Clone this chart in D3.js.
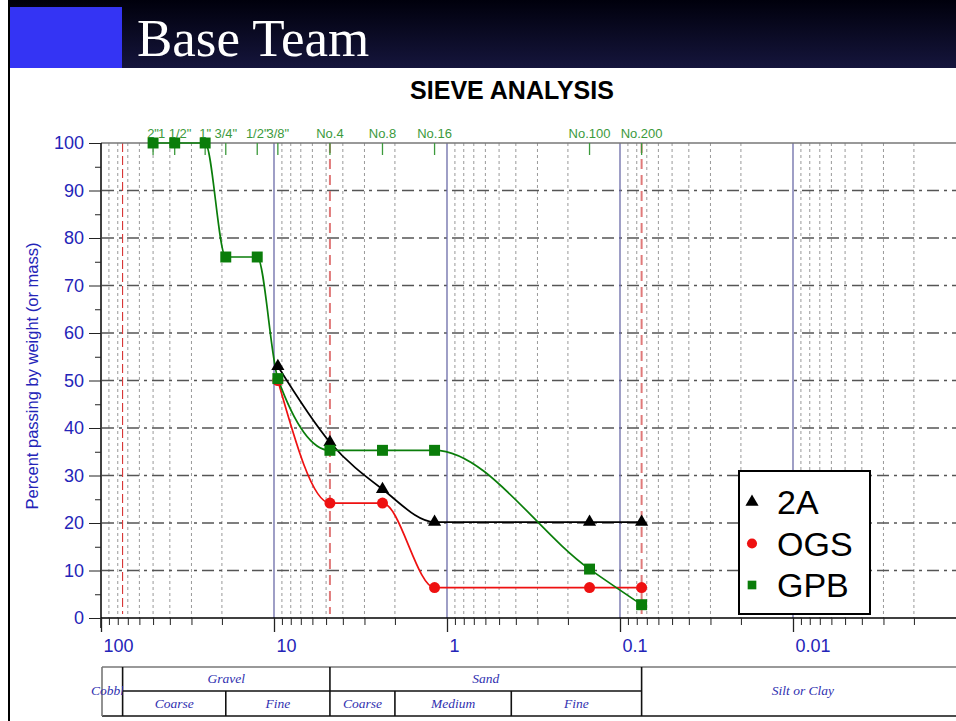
<!DOCTYPE html>
<html>
<head>
<meta charset="utf-8">
<script src="https://cdn.jsdelivr.net/npm/d3@7"></script>
<style>
  body { margin: 0; background: #fff; }
  svg { display: block; }
</style>
</head>
<body>
<svg id="canvas" width="956" height="721"></svg>
<script>
(function () {
    // sieve openings (mm) and their names
    var sieveSizes = [50, 37.5, 25, 19, 12.5, 9.5, 4.75, 2.36, 1.18, 0.15, 0.075];
    var sieveNames = ['2"', '1 1/2"', '1"', '3/4"', '1/2"', '3/8"', 'No.4', 'No.8', 'No.16', 'No.100', 'No.200'];

    // percent passing for each mix
    var sizes2A = [9.5, 4.75, 2.36, 1.18, 0.15, 0.075];
    var pass2A = [53, 37, 27.1, 20.2, 20.2, 20.2];
    var sizesOGS = [9.5, 4.75, 2.36, 1.18, 0.15, 0.075];
    var passOGS = [50, 24.2, 24.2, 6.4, 6.4, 6.4];
    var sizesGPB = [50, 37.5, 25, 19, 12.5, 9.5, 4.75, 2.36, 1.18, 0.15, 0.075];
    var passGPB = [100, 100, 100, 76, 76, 50.4, 35.3, 35.3, 35.3, 10.3, 2.8];

    var xMajor = [100, 10, 1, 0.1, 0.01];
    var xMajorLabels = ["100", "10", "1", "0.1", "0.01"];
    var yTicks = [0, 10, 20, 30, 40, 50, 60, 70, 80, 90, 100];

    // soil class boundaries (mm)
    var boundaries = [75, 4.75, 0.075];
    var classTop = [["Gravel", 75, 4.75], ["Sand", 4.75, 0.075]];
    var classBottom = [["Coarse", 75, 19], ["Fine", 19, 4.75], ["Coarse", 4.75, 2], ["Medium", 2, 0.425], ["Fine", 0.425, 0.075]];

    var blue = "#2424b8";
    var svg = d3.select("#canvas");

    // ---- slide banner ----
    var defs = svg.append("defs");
    var grad = defs.append("linearGradient").attr("id", "band")
        .attr("x1", 0).attr("y1", 0).attr("x2", 0).attr("y2", 1);
    grad.append("stop").attr("offset", "0%").attr("stop-color", "#00000c");
    grad.append("stop").attr("offset", "100%").attr("stop-color", "#15153c");
    defs.append("clipPath").attr("id", "cobClip")
        .append("rect").attr("x", 60).attr("y", 660).attr("width", 63).attr("height", 60);

    svg.append("rect").attr("x", 8).attr("y", 0).attr("width", 948).attr("height", 68).attr("fill", "url(#band)");
    svg.append("rect").attr("x", 10).attr("y", 7).attr("width", 112).attr("height", 61).attr("fill", "#3434f4");
    svg.append("line").attr("x1", 9).attr("x2", 9).attr("y1", 0).attr("y2", 721)
        .attr("stroke", "#000").attr("stroke-width", 2);
    svg.append("text").attr("x", 137).attr("y", 56)
        .attr("font-family", "'Liberation Serif', 'Times New Roman', serif")
        .attr("font-size", 53).attr("fill", "#fff").text("Base Team");

    svg.append("text").attr("x", 512).attr("y", 99).attr("text-anchor", "middle")
        .attr("font-family", "'Liberation Sans', Arial, sans-serif").attr("font-weight", "bold")
        .attr("font-size", 25).attr("fill", "#000").text("SIEVE ANALYSIS");

    // ---- scales ----
    var x = d3.scaleLog().domain([100, 0.001]).range([101, 966]);
    var y = d3.scaleLinear().domain([0, 100]).range([618, 143]);

    var minor = [];
    [10, 1, 0.1, 0.01, 0.001].forEach(function (d) {
        for (var k = 2; k <= 9; k++) minor.push(+(k * d).toPrecision(3));
    });

    var chart = svg.append("g");

    // dotted minor grid
    chart.append("g").selectAll("line").data(minor).join("line")
        .attr("x1", function (d) { return x(d); }).attr("x2", function (d) { return x(d); })
        .attr("y1", y(100)).attr("y2", y(0))
        .attr("stroke", "#999").attr("stroke-width", 1).attr("stroke-dasharray", "3,3");

    // horizontal dash-dot grid
    chart.append("g").selectAll("line").data(yTicks.slice(1, 10)).join("line")
        .attr("x1", 102).attr("x2", 956)
        .attr("y1", function (d) { return y(d); }).attr("y2", function (d) { return y(d); })
        .attr("stroke", "#555").attr("stroke-width", 1.3).attr("stroke-dasharray", "12,5,3,5");

    // blue decade lines
    chart.append("g").selectAll("line").data(xMajor.slice(1)).join("line")
        .attr("x1", function (d) { return x(d); }).attr("x2", function (d) { return x(d); })
        .attr("y1", y(100)).attr("y2", y(0))
        .attr("stroke", "#6b6ba8").attr("stroke-width", 1.3);

    // red class boundaries
    chart.append("g").selectAll("line").data(boundaries).join("line")
        .attr("x1", function (d) { return x(d); }).attr("x2", function (d) { return x(d); })
        .attr("y1", y(100)).attr("y2", y(0) - 4)
        .attr("stroke", function (d, i) { return i === 0 ? "#d42020" : "#e07a7a"; })
        .attr("stroke-width", function (d, i) { return i === 0 ? 1 : 2; })
        .attr("stroke-dasharray", function (d, i) { return i === 0 ? "9,4" : "10,6"; });

    // top frame + sieve ticks
    chart.append("line").attr("x1", 101).attr("x2", 956).attr("y1", y(100)).attr("y2", y(100))
        .attr("stroke", "#777").attr("stroke-width", 1.5);
    chart.append("g").selectAll("line").data(sieveSizes).join("line")
        .attr("x1", function (d) { return x(d); }).attr("x2", function (d) { return x(d); })
        .attr("y1", y(100)).attr("y2", y(100) + 12)
        .attr("stroke", "#3c9a3c").attr("stroke-width", 1.3);
    chart.append("g").selectAll("text").data(sieveSizes).join("text")
        .attr("x", function (d) { return x(d); }).attr("y", y(100) - 5)
        .attr("text-anchor", "middle")
        .attr("font-family", "'Liberation Sans', Arial, sans-serif").attr("font-size", 13)
        .attr("fill", "#3c9a3c")
        .text(function (d, i) { return sieveNames[i]; });

    // axes
    chart.append("g").attr("transform", "translate(101,0)")
        .call(d3.axisLeft(y).tickValues(yTicks).tickSize(12).tickSizeOuter(0).tickPadding(5))
        .call(function (g) { g.select(".domain").attr("stroke-width", 1.5).attr("d", "M0,143V628"); })
        .call(function (g) {
            g.selectAll("line").attr("stroke", "#222");
            g.selectAll("text").attr("fill", blue).attr("font-size", 18)
                .attr("font-family", "'Liberation Sans', Arial, sans-serif");
        });
    chart.append("g").attr("transform", "translate(101,0)")
        .call(d3.axisLeft(y).tickValues(d3.range(5, 100, 10)).tickSize(6).tickFormat(""))
        .call(function (g) { g.select(".domain").remove(); g.selectAll("line").attr("stroke", "#222"); });

    chart.append("g").attr("transform", "translate(0," + y(0) + ")")
        .call(d3.axisBottom(x).tickValues(xMajor).tickSize(14).tickSizeOuter(0)
            .tickFormat(function (d, i) { return xMajorLabels[i]; }))
        .call(function (g) {
            g.select(".domain").attr("d", "M101,0H956").attr("stroke-width", 1.5);
            g.selectAll("line").attr("stroke", "#222").attr("stroke-width", 1.3);
            g.selectAll("text").attr("fill", blue).attr("font-size", 18)
                .attr("font-family", "'Liberation Sans', Arial, sans-serif")
                .attr("text-anchor", "start").attr("x", 2).attr("y", 21);
        });
    chart.append("g").attr("transform", "translate(0," + y(0) + ")")
        .call(d3.axisBottom(x).tickValues(minor).tickSize(7).tickFormat(""))
        .call(function (g) { g.select(".domain").remove(); g.selectAll("line").attr("stroke", "#222"); });

    svg.append("text")
        .attr("transform", "translate(38,376) rotate(-90)")
        .attr("text-anchor", "middle")
        .attr("font-family", "'Liberation Sans', Arial, sans-serif").attr("font-size", 16.5)
        .attr("fill", blue).text("Percent passing by weight (or mass)");

    // ---- series ----
    var line = d3.line()
        .x(function (d) { return x(d[0]); })
        .y(function (d) { return y(d[1]); })
        .curve(d3.curveMonotoneX);

    function zip(a, b) { return a.map(function (d, i) { return [d, b[i]]; }); }

    var series = [
        { name: "OGS", pts: zip(sizesOGS, passOGS), color: "#ee1111", sym: d3.symbolCircle, size: 95 },
        { name: "2A", pts: zip(sizes2A, pass2A), color: "#000", sym: d3.symbolTriangle, size: 75 },
        { name: "GPB", pts: zip(sizesGPB, passGPB), color: "#0a7d0a", sym: d3.symbolSquare, size: 120 }
    ];

    series.forEach(function (s) {
        chart.append("path").datum(s.pts).attr("d", line)
            .attr("fill", "none").attr("stroke", s.color).attr("stroke-width", 1.7);
    });
    series.forEach(function (s) {
        chart.append("g").selectAll("path").data(s.pts).join("path")
            .attr("transform", function (d) { return "translate(" + x(d[0]) + "," + y(d[1]) + ")"; })
            .attr("d", d3.symbol().type(s.sym).size(s.size))
            .attr("fill", s.color);
    });

    // ---- legend ----
    var legend = svg.append("g");
    legend.append("rect").attr("x", 739).attr("y", 471).attr("width", 131).attr("height", 143)
        .attr("fill", "#fff").attr("stroke", "#000").attr("stroke-width", 2);
    var legendOrder = [series[1], series[0], series[2]];
    legendOrder.forEach(function (s, i) {
        var cy = 502 + i * 41.5;
        legend.append("path").attr("transform", "translate(752," + cy + ")")
            .attr("d", d3.symbol().type(s.sym).size(s.sym === d3.symbolCircle ? 80 : 75))
            .attr("fill", s.color);
        legend.append("text").attr("x", 777).attr("y", cy + 12)
            .attr("font-family", "'Liberation Sans', Arial, sans-serif").attr("font-size", 34)
            .attr("fill", "#000").text(s.name);
    });

    // ---- soil classification table ----
    var table = svg.append("g");
    var tTop = 667, tMid = 691, tBot = 716;
    var lineAttrs = function (sel) { return sel.attr("stroke", "#111").attr("stroke-width", 1.6); };
    lineAttrs(table.append("line").attr("x1", 102).attr("x2", 956).attr("y1", tTop).attr("y2", tTop)).attr("stroke", "#777");
    lineAttrs(table.append("line").attr("x1", 102).attr("x2", 956).attr("y1", tBot).attr("y2", tBot));
    lineAttrs(table.append("line").attr("x1", x(75)).attr("x2", x(0.075)).attr("y1", tMid).attr("y2", tMid));
    lineAttrs(table.append("line").attr("x1", 102).attr("x2", 102).attr("y1", tTop).attr("y2", tBot)).attr("stroke", "#777");
    table.append("g").selectAll("line").data(boundaries).join("line")
        .attr("x1", function (d) { return x(d); }).attr("x2", function (d) { return x(d); })
        .attr("y1", tTop).attr("y2", tBot).attr("stroke", "#111").attr("stroke-width", 1.6);
    table.append("g").selectAll("line").data([19, 2, 0.425]).join("line")
        .attr("x1", function (d) { return x(d); }).attr("x2", function (d) { return x(d); })
        .attr("y1", tMid).attr("y2", tBot).attr("stroke", "#111").attr("stroke-width", 1.6);

    var tf = function (sel) {
        return sel.attr("font-family", "'Liberation Serif', 'Times New Roman', serif")
            .attr("font-style", "italic").attr("font-size", 13.5).attr("fill", "#3030b0")
            .attr("text-anchor", "middle");
    };
    classTop.forEach(function (c) {
        tf(table.append("text")).attr("x", (x(c[1]) + x(c[2])) / 2).attr("y", 683).text(c[0]);
    });
    classBottom.forEach(function (c) {
        tf(table.append("text")).attr("x", (x(c[1]) + x(c[2])) / 2).attr("y", 708).text(c[0]);
    });
    tf(table.append("text")).attr("x", 803).attr("y", 695).text("Silt or Clay");
    tf(table.append("text")).attr("text-anchor", "start").attr("x", 91).attr("y", 695)
        .attr("clip-path", "url(#cobClip)").text("Cobbles");
})();
</script>
</body>
</html>
